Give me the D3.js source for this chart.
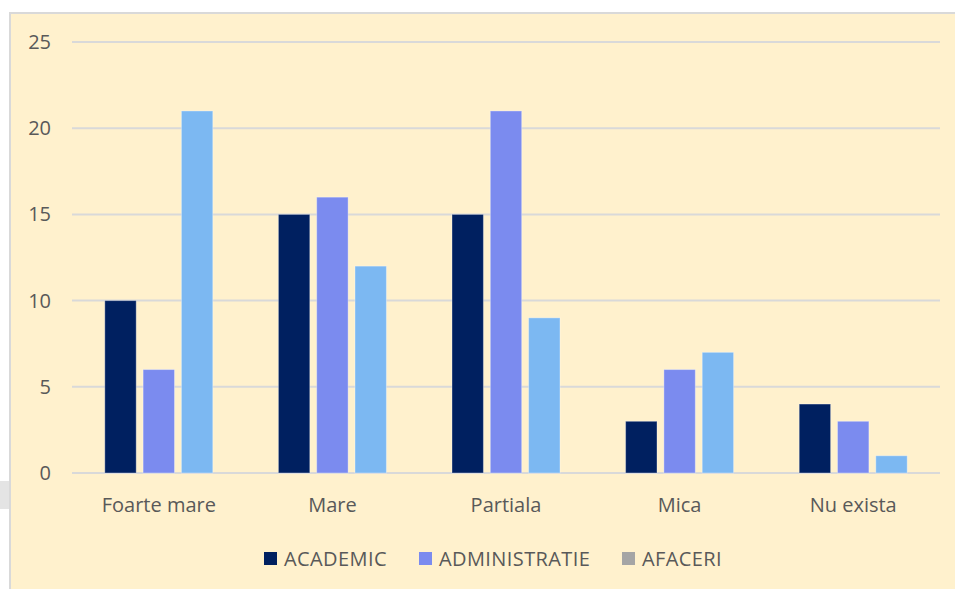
<!DOCTYPE html>
<html>
<head>
<meta charset="utf-8">
<script src="https://cdn.jsdelivr.net/npm/d3@7"></script>
<style>
  body { margin: 0; background: #fff; }
  text { font-family: "Open Sans", "Noto Sans", sans-serif; fill: #595959; }
</style>
</head>
<body>
<div id="graphId"></div>
<script>
var categories = ["Foarte mare", "Mare", "Partiala", "Mica", "Nu exista"];
var seriesNames = ["ACADEMIC", "ADMINISTRATIE", "AFACERI"];
var academic = [10, 15, 15, 3, 4];
var administratie = [6, 16, 21, 6, 3];
var afaceri = [21, 12, 9, 7, 1];
var yTicks = [0, 5, 10, 15, 20, 25];

var barColors = ["#002060", "#7B8BEF", "#7CB8F2"];
var legendColors = ["#002060", "#7B8BEF", "#A5A5A5"];

var wt = 955, ht = 589;
var margin = { top: 42, right: 15, bottom: 116, left: 72 };
var width = 940 - margin.left;
var height = 473 - margin.top;

var svg = d3.select("#graphId").append("svg")
    .attr("width", wt)
    .attr("height", ht);

// small grey shape peeking in at the left edge
svg.append("rect")
    .attr("x", 0).attr("y", 481)
    .attr("width", 9).attr("height", 28)
    .attr("fill", "#E4E4E4");

// chart area background + border
svg.append("rect")
    .attr("x", 10).attr("y", 13)
    .attr("width", 960).attr("height", 600)
    .attr("fill", "#FFF1CD")
    .attr("stroke", "#D9D9D9")
    .attr("stroke-width", 2);

var g = svg.append("g")
    .attr("transform", "translate(" + margin.left + "," + margin.top + ")");

var x0 = d3.scaleBand().domain(categories).range([0, width]);
var x1 = d3.scaleBand().domain(seriesNames)
    .range([x0.bandwidth() / 2 - 54, x0.bandwidth() / 2 + 54])
    .paddingInner(0.18);
var y = d3.scaleLinear().domain([0, 25]).range([height, 0]);

// gridlines
g.append("g")
    .selectAll("line")
    .data(yTicks)
    .enter().append("line")
    .attr("x1", 0).attr("x2", width)
    .attr("y1", function (d) { return y(d); })
    .attr("y2", function (d) { return y(d); })
    .attr("stroke", "#D9D9D9")
    .attr("stroke-width", 2);

// y tick labels
var yAxis = g.append("g")
    .call(d3.axisLeft(y).tickValues(yTicks).tickSize(0).tickPadding(21));
yAxis.select(".domain").remove();
yAxis.selectAll("text")
    .style("font-size", "20px")
    .attr("fill", "#595959");

// x labels
var xAxis = g.append("g")
    .attr("transform", "translate(0," + height + ")")
    .call(d3.axisBottom(x0).tickSize(0).tickPadding(25));
xAxis.select(".domain").remove();
xAxis.selectAll("text")
    .style("font-size", "20px")
    .attr("fill", "#595959");

var data = categories.map(function (c, i) {
    return { cat: c, values: [academic[i], administratie[i], afaceri[i]] };
});

var groups = g.selectAll(".grp")
    .data(data)
    .enter().append("g")
    .attr("transform", function (d) { return "translate(" + x0(d.cat) + ",0)"; });

groups.selectAll("rect")
    .data(function (d) {
        return d.values.map(function (v, j) { return { name: seriesNames[j], value: v, j: j }; });
    })
    .enter().append("rect")
    .attr("x", function (d) { return x1(d.name); })
    .attr("width", x1.bandwidth())
    .attr("y", function (d) { return y(d.value); })
    .attr("height", function (d) { return height - y(d.value); })
    .attr("fill", function (d) { return barColors[d.j]; })
    .attr("stroke", "#ffffff")
    .attr("stroke-opacity", 0.35)
    .attr("stroke-width", 1);

// legend
var legendX = [264, 419, 622];
var legend = svg.append("g");
seriesNames.forEach(function (name, i) {
    legend.append("rect")
        .attr("x", legendX[i]).attr("y", 552)
        .attr("width", 13).attr("height", 13)
        .attr("fill", legendColors[i]);
    legend.append("text")
        .attr("x", legendX[i] + 20).attr("y", 566)
        .style("font-size", "20px")
        .style("letter-spacing", "0.4px")
        .text(name);
});
</script>
</body>
</html>
